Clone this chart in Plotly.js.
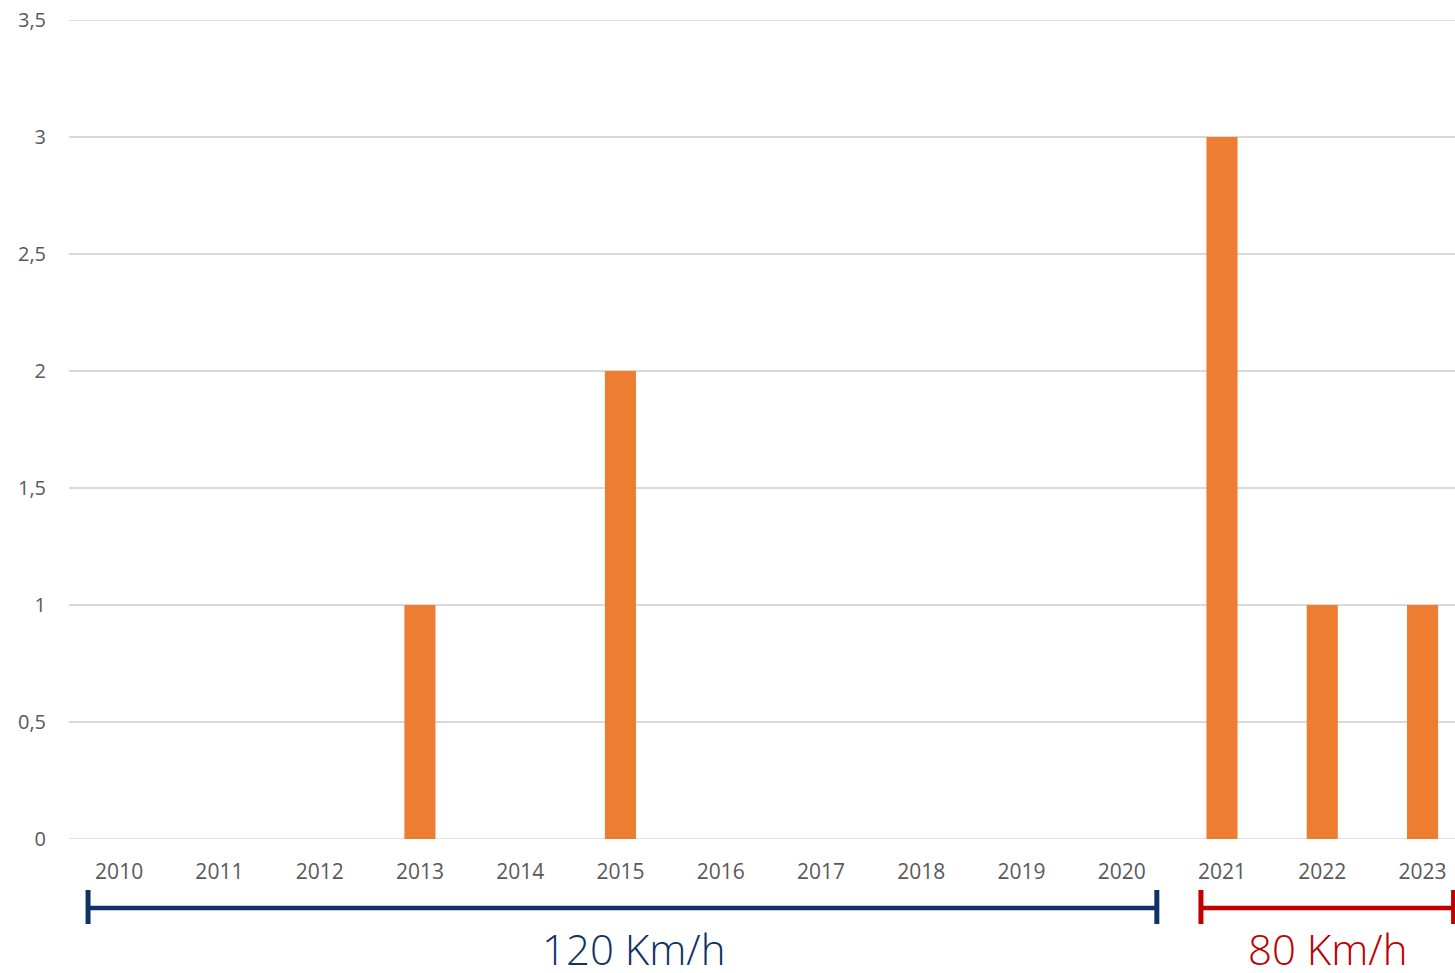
<!DOCTYPE html>
<html>
<head>
<meta charset="utf-8">
<script src="https://cdn.plot.ly/plotly-3.0.1.min.js"></script>
<style>
html,body{margin:0;padding:0;background:#fff;}
#chart{width:1455px;height:973px;}
</style>
</head>
<body>
<div id="chart"></div>
<script>
const years = ['2010','2011','2012','2013','2014','2015','2016','2017','2018','2019','2020','2021','2022','2023'];
const values = [0,0,0,1,0,2,0,0,0,0,0,3,1,1];
const yTickVals = [0,0.5,1,1.5,2,2.5,3,3.5];
const yTickText = ['0','0,5','1','1,5','2','2,5','3','3,5'];
const yMax = 3.5;
const periodLabels = ['120 Km/h','80 Km/h'];
const periodColors = ['#0E3366','#C00000'];
// period spans in category-index units
const periodStart = [-0.31, 10.79];
const periodEnd = [10.35, 13.31];
const periodLabelPos = [5.13, 12.05];

const W = 1455, H = 973;
const mT = 20, mB = 134;
const plotH = H - mT - mB;
function py(pixelBelow){ return -pixelBelow/plotH; } // pixels below plot bottom -> paper y

const shapes = [
  {type:'line', xref:'paper', yref:'y', x0:0, x1:1, y0:yMax, y1:yMax, line:{color:'#D9D9D9', width:1.5}, layer:'below'},
  {type:'line', xref:'paper', yref:'y', x0:0, x1:1, y0:0, y1:0, line:{color:'#D9D9D9', width:1.5}, layer:'below'}
];
const annotations = [];
for (let i = 0; i < periodLabels.length; i++) {
  const c = periodColors[i];
  shapes.push({type:'line', xref:'x', yref:'paper', x0:periodStart[i], x1:periodEnd[i], y0:py(69), y1:py(69), line:{color:c, width:4.5}});
  shapes.push({type:'line', xref:'x', yref:'paper', x0:periodStart[i], x1:periodStart[i], y0:py(51), y1:py(85), line:{color:c, width:5}});
  shapes.push({type:'line', xref:'x', yref:'paper', x0:periodEnd[i], x1:periodEnd[i], y0:py(51), y1:py(85), line:{color:c, width:5}});
  annotations.push({xref:'x', yref:'paper', x:periodLabelPos[i], y:py(109), text:periodLabels[i], showarrow:false, yanchor:'middle', xanchor:'center',
    font:{family:'Open Sans, sans-serif', size:42, color:c, weight:300}});
}

const trace = {
  type:'bar', x: years.map((_,i)=>i), y: values,
  marker:{color:'#ED7D31'}, width:0.31, hoverinfo:'none'
};

const layout = {
  width: W, height: H,
  margin:{l:69, r:0, t:mT, b:mB, pad:0},
  paper_bgcolor:'#fff', plot_bgcolor:'#fff',
  showlegend:false,
  xaxis:{
    range:[-0.5, 13.324], tickmode:'array', tickvals: years.map((_,i)=>i), ticktext: years,
    showgrid:false, zeroline:false, showline:false, ticks:'outside', ticklen:14, tickcolor:'rgba(0,0,0,0)',
    tickfont:{family:'Open Sans, sans-serif', size:21, color:'#595959'}, fixedrange:true
  },
  yaxis:{
    range:[0, yMax], tickmode:'array', tickvals:yTickVals, ticktext:yTickText,
    showgrid:true, gridcolor:'#D9D9D9', gridwidth:1.5, zeroline:false, showline:false,
    ticks:'outside', ticklen:18, tickcolor:'rgba(0,0,0,0)',
    tickfont:{family:'Open Sans, sans-serif', size:20, color:'#595959'}, fixedrange:true
  },
  shapes: shapes,
  annotations: annotations
};

Plotly.newPlot('chart', [trace], layout, {displayModeBar:false, staticPlot:true});
</script>
</body>
</html>
